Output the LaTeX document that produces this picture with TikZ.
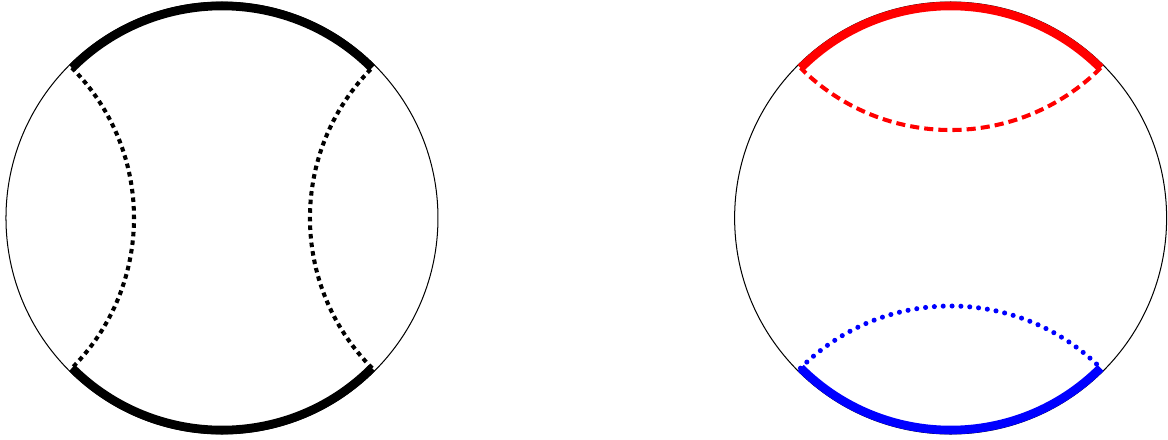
\documentclass[tikz,border=0pt]{standalone}
\usepackage{xcolor}
\usepackage{tikz}
\usetikzlibrary{positioning}

\begin{document}
\begin{tikzpicture}[
    boundary/.style={draw, line width=0.4pt},
    thickarc/.style={line width=3.4pt},
    blackgeo/.style={line width=1.6pt, dash pattern=on 1.8pt off 1.6pt},
    redgeo/.style={red, line width=1.6pt, dash pattern=on 3.6pt off 2pt},
    bluegeo/.style={blue, line width=2pt, line cap=round, dash pattern=on 0pt off 3.5pt}
  ]
  \def\R{3}
  \def\r{2.95}
  \def\t{2.945}
  \useasboundingbox (-3.083,-3.083) rectangle (13.139,3.028);

  % left disk
  \coordinate (leftdisk) at (0,0);
  \draw[boundary] (leftdisk) circle (\R);
  \draw[thickarc] (45:\t) arc[start angle=45, end angle=135, radius=\t];
  \draw[thickarc] (225:\t) arc[start angle=225, end angle=315, radius=\t];
  \draw[blackgeo] (135:\r) arc[start angle=45, end angle=-45, radius=\r];
  \draw[blackgeo] (-45:\r) arc[start angle=-135, end angle=-225, radius=\r];

  % right disk
  \begin{scope}[shift={(10.12,0)}]
    \coordinate (rightdisk) at (0,0);
    \draw[boundary] (rightdisk) circle (\R);
    \draw[thickarc, red] (45:\t) arc[start angle=45, end angle=135, radius=\t];
    \draw[thickarc, blue] (225:\t) arc[start angle=225, end angle=315, radius=\t];
    \draw[redgeo] (45:\r) arc[start angle=-45, end angle=-135, radius=\r];
    \draw[bluegeo] (225:\r) arc[start angle=135, end angle=45, radius=\r];
  \end{scope}
\end{tikzpicture}
\end{document}
